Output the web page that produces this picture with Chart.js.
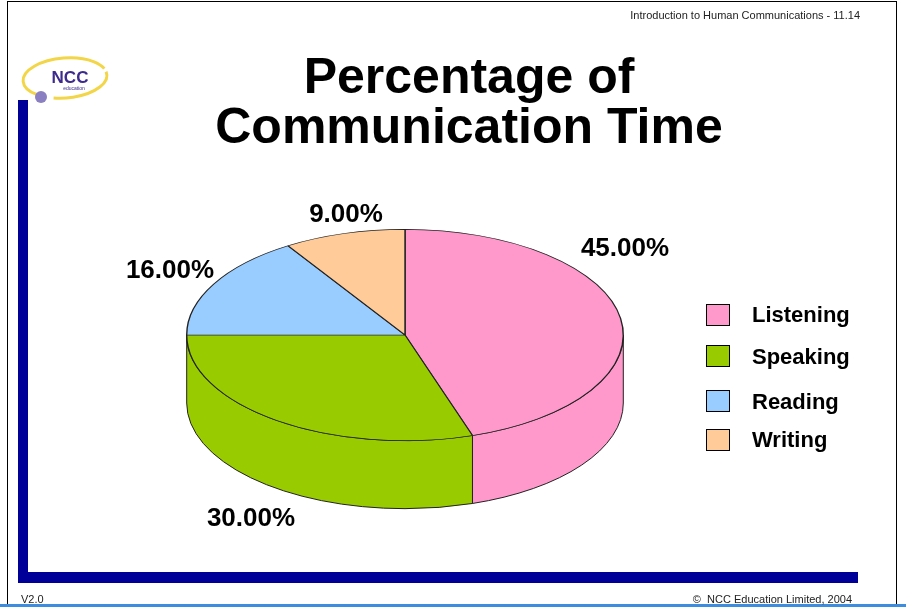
<!DOCTYPE html>
<html>
<head>
<meta charset="utf-8">
<script src="https://cdn.jsdelivr.net/npm/chart.js@4/dist/chart.umd.min.js"></script>
<style>
  html, body { margin: 0; padding: 0; background: #fff; }
  #wrap { width: 906px; height: 607px; position: relative; }
</style>
</head>
<body>
<div id="wrap"><canvas id="pieChart" width="906" height="607"></canvas></div>
<script>
const categories = ["Listening", "Speaking", "Reading", "Writing"];
const shares = [45, 30, 16, 9];
const sliceColors = ["#FF99CC", "#99CC00", "#99CCFF", "#FFCC99"];

// where each percentage label sits on the slide
const labelSpots = [[625, 249], [251, 519], [170, 271], [346, 215]];
// legend rows (box top y, text centre y)
const legendRows = [[304, 316], [345, 358], [390, 403], [429, 441]];

const tilt = 106 / 219;   // vertical squash of the pie
const depth = 68;         // thickness of the 3D side
const font = "'Liberation Sans', Arial, sans-serif";

// frame, logo, header and footer
const slideDecor = {
  id: "slideDecor",
  beforeDraw(chart) {
    const ctx = chart.ctx;
    ctx.save();
    ctx.fillStyle = "#fff";
    ctx.fillRect(0, 0, 906, 607);

    ctx.strokeStyle = "#000";
    ctx.lineWidth = 1;
    ctx.strokeRect(7.5, 1.5, 889, 610);

    ctx.fillStyle = "#000099";
    ctx.fillRect(18, 100, 10, 483);
    ctx.fillRect(18, 572, 840, 11);

    ctx.fillStyle = "#3c8ce0";
    ctx.fillRect(0, 604, 906, 3);

    // logo
    ctx.fillStyle = "#fff";
    ctx.beginPath();
    ctx.ellipse(64, 80, 44, 24, 0, 0, Math.PI * 2);
    ctx.fill();
    ctx.strokeStyle = "#f2d648";
    ctx.lineWidth = 3;
    ctx.beginPath();
    ctx.ellipse(65, 78, 42, 20, -0.08, Math.PI * 0.75, Math.PI * 1.9);
    ctx.stroke();
    ctx.beginPath();
    ctx.ellipse(65, 78, 42, 20, -0.08, Math.PI * 1.95, Math.PI * 2.6);
    ctx.stroke();
    ctx.fillStyle = "#3d2a8c";
    ctx.font = "bold 17px " + font;
    ctx.textAlign = "center";
    ctx.textBaseline = "alphabetic";
    ctx.fillText("NCC", 70, 83);
    ctx.font = "5px " + font;
    ctx.fillText("education", 74, 90);
    ctx.fillStyle = "#8a7fc0";
    ctx.beginPath();
    ctx.arc(41, 97, 6, 0, Math.PI * 2);
    ctx.fill();

    // header and footer text
    ctx.fillStyle = "#222";
    ctx.font = "11px " + font;
    ctx.textAlign = "right";
    ctx.fillText("Introduction to Human Communications - 11.14", 860, 19);
    ctx.fillText("\u00A9  NCC Education Limited, 2004", 852, 603);
    ctx.textAlign = "left";
    ctx.fillText("V2.0", 21, 603);

    // title
    ctx.fillStyle = "#000";
    ctx.font = "bold 50px " + font;
    ctx.textAlign = "center";
    ctx.fillText("Percentage of", 469, 93);
    ctx.fillText("Communication Time", 469, 143);
    ctx.restore();
  }
};

// squash the pie and draw its side wall
const pie3d = {
  id: "pie3d",
  beforeDatasetsDraw(chart) {
    const ctx = chart.ctx;
    const arcs = chart.getDatasetMeta(0).data;
    const cx = arcs[0].x, cy = arcs[0].y;
    const rx = arcs[0].outerRadius, ry = rx * tilt;
    ctx.save();
    ctx.lineWidth = 1;
    ctx.strokeStyle = "#222";
    arcs.forEach((arc, i) => {
      const a = Math.max(arc.startAngle, 0);
      const b = Math.min(arc.endAngle, Math.PI);
      if (b <= a) return;
      ctx.beginPath();
      ctx.ellipse(cx, cy, rx, ry, 0, a, b);
      ctx.lineTo(cx + rx * Math.cos(b), cy + depth + ry * Math.sin(b));
      ctx.ellipse(cx, cy + depth, rx, ry, 0, b, a, true);
      ctx.closePath();
      ctx.fillStyle = sliceColors[i];
      ctx.fill();
      ctx.stroke();
    });
    ctx.restore();

    ctx.save();
    ctx.translate(cx, cy);
    ctx.scale(1, tilt);
    ctx.translate(-cx, -cy);
  },
  afterDatasetsDraw(chart) {
    chart.ctx.restore();
  }
};

// percentage labels and legend
const pieText = {
  id: "pieText",
  afterDraw(chart) {
    const ctx = chart.ctx;
    ctx.save();
    ctx.fillStyle = "#000";
    ctx.font = "bold 26px " + font;
    ctx.textAlign = "center";
    ctx.textBaseline = "middle";
    shares.forEach((v, i) => {
      ctx.fillText(v.toFixed(2) + "%", labelSpots[i][0], labelSpots[i][1]);
    });

    ctx.font = "bold 22px " + font;
    ctx.textAlign = "left";
    ctx.lineWidth = 1;
    ctx.strokeStyle = "#000";
    categories.forEach((c, i) => {
      ctx.fillStyle = sliceColors[i];
      ctx.fillRect(706, legendRows[i][0], 23, 21);
      ctx.strokeRect(706.5, legendRows[i][0] + 0.5, 23, 21);
      ctx.fillStyle = "#000";
      ctx.fillText(c, 752, legendRows[i][1]);
    });
    ctx.restore();
  }
};

const ctx = document.getElementById("pieChart").getContext("2d");
new Chart(ctx, {
  type: "pie",
  data: {
    labels: categories,
    datasets: [{
      data: shares,
      backgroundColor: sliceColors,
      borderColor: "#222",
      borderWidth: 1.4,
      hoverOffset: 0,
      offset: 0,
      clip: false
    }]
  },
  options: {
    responsive: false,
    animation: false,
    events: [],
    rotation: 0,
    layout: { padding: { left: 186, right: 282, top: 116, bottom: 53 } },
    plugins: {
      legend: { display: false },
      tooltip: { enabled: false }
    }
  },
  plugins: [slideDecor, pie3d, pieText]
});
</script>
</body>
</html>
